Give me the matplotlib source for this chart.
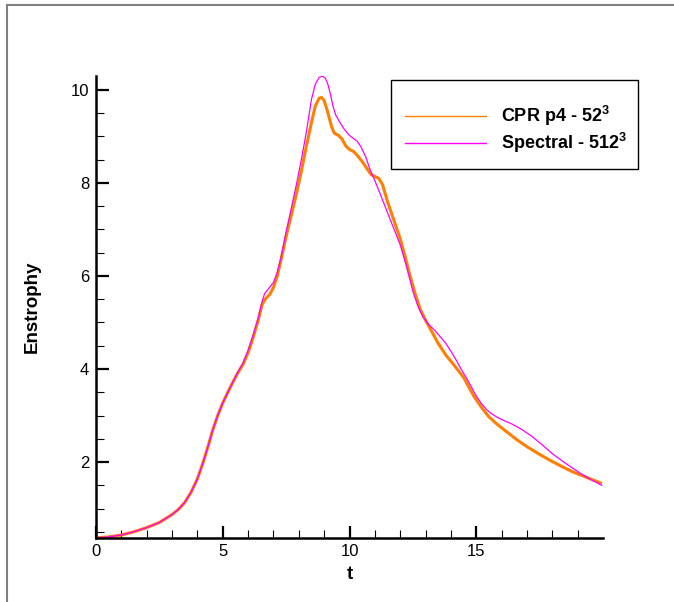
import matplotlib
matplotlib.use("Agg")
import matplotlib.pyplot as plt
from matplotlib.lines import Line2D
from matplotlib.patches import Rectangle
from matplotlib.ticker import FixedLocator

plt.rcParams['font.family'] = ['Liberation Sans', 'DejaVu Sans']
plt.rcParams['mathtext.fontset'] = 'custom'
plt.rcParams['mathtext.rm'] = 'Liberation Sans'
plt.rcParams['mathtext.bf'] = 'Liberation Sans:bold'

# CPR p4 - 52^3
t_cpr = [0, 0.5, 1.0, 1.5, 2.0, 2.5, 3.0, 3.25, 3.5, 3.75, 4.0, 4.2, 4.4,
         4.6, 4.8, 5.0, 5.2, 5.4, 5.6, 5.8, 6.0, 6.2, 6.4, 6.55, 6.7, 6.85,
         7.0, 7.15, 7.3, 7.5, 7.7, 7.9, 8.1, 8.3, 8.5, 8.65, 8.8, 8.9, 9.0,
         9.1, 9.2, 9.3, 9.4, 9.55, 9.7, 9.85, 10.0, 10.15, 10.3, 10.5, 10.7,
         10.85, 11.0, 11.15, 11.3, 11.5, 11.75, 12.0, 12.2, 12.4, 12.6, 12.8,
         13.0, 13.2, 13.5, 13.8, 14.1, 14.5, 14.9, 15.2, 15.5, 15.85, 16.2,
         16.6, 17.0, 17.45, 17.9, 18.35, 18.8, 19.35, 19.9]
e_cpr = [0.37, 0.39, 0.43, 0.50, 0.59, 0.70, 0.87, 0.98, 1.13, 1.35, 1.64,
         1.95, 2.30, 2.68, 3.00, 3.27, 3.50, 3.72, 3.92, 4.10, 4.35, 4.68,
         5.05, 5.38, 5.52, 5.60, 5.75, 6.00, 6.35, 6.85, 7.30, 7.75, 8.25,
         8.80, 9.30, 9.65, 9.82, 9.84, 9.77, 9.60, 9.40, 9.20, 9.07, 9.03,
         8.95, 8.80, 8.72, 8.68, 8.60, 8.46, 8.30, 8.18, 8.14, 8.10, 7.97,
         7.60, 7.20, 6.80, 6.40, 5.98, 5.60, 5.27, 5.05, 4.85, 4.55, 4.30,
         4.10, 3.82, 3.42, 3.18, 2.97, 2.80, 2.65, 2.48, 2.33, 2.18, 2.04,
         1.91, 1.79, 1.67, 1.55]

# Spectral - 512^3
t_spec = [0, 0.5, 1.0, 1.5, 2.0, 2.5, 3.0, 3.25, 3.5, 3.75, 4.0, 4.2, 4.4,
          4.6, 4.8, 5.0, 5.2, 5.4, 5.6, 5.8, 6.0, 6.2, 6.4, 6.55, 6.65, 6.8,
          7.0, 7.15, 7.3, 7.5, 7.7, 7.9, 8.1, 8.3, 8.5, 8.65, 8.8, 8.93, 9.05,
          9.15, 9.25, 9.35, 9.45, 9.6, 9.8, 10.0, 10.15, 10.3, 10.45, 10.65,
          10.8, 11.0, 11.2, 11.4, 11.6, 11.8, 12.0, 12.25, 12.5, 12.7, 12.9,
          13.1, 13.35, 13.6, 13.8, 14.0, 14.2, 14.4, 14.6, 14.8, 15.0, 15.2,
          15.4, 15.6, 15.8, 16.1, 16.4, 16.8, 17.2, 17.6, 18.0, 18.5, 19.1,
          19.5, 19.95]
e_spec = [0.37, 0.39, 0.43, 0.50, 0.59, 0.70, 0.87, 0.98, 1.13, 1.35, 1.64,
          1.95, 2.30, 2.68, 3.00, 3.27, 3.50, 3.72, 3.94, 4.13, 4.40, 4.73,
          5.10, 5.45, 5.62, 5.72, 5.86, 6.08, 6.40, 6.95, 7.45, 7.95, 8.50,
          9.10, 9.80, 10.12, 10.27, 10.30, 10.25, 10.12, 9.90, 9.65, 9.47,
          9.32, 9.15, 9.02, 8.96, 8.90, 8.78, 8.55, 8.30, 8.05, 7.78, 7.50,
          7.22, 6.95, 6.67, 6.20, 5.67, 5.35, 5.12, 4.97, 4.84, 4.68, 4.55,
          4.38, 4.20, 4.00, 3.82, 3.62, 3.42, 3.26, 3.13, 3.04, 2.97, 2.89,
          2.82, 2.70, 2.55, 2.37, 2.18, 1.98, 1.76, 1.63, 1.50]

labels = [r'CPR p4 - 52$^{\mathbf{3}}$', r'Spectral - 512$^{\mathbf{3}}$']
colors = ['#ff8000', '#ff00ff']

fig = plt.figure(figsize=(6.74, 6.02), dpi=100)
ax = fig.add_axes([96 / 674, 64 / 602, 507 / 674, 462 / 602])

ax.plot(t_cpr, e_cpr, color=colors[0], lw=2.2)
ax.plot(t_spec, e_spec, color=colors[1], lw=0.9)

ax.set_xlim(0, 20)
ax.set_ylim(0.366, 10.3)

for s in ['top', 'right']:
    ax.spines[s].set_visible(False)
for s in ['left', 'bottom']:
    ax.spines[s].set_linewidth(1.8)

ax.xaxis.set_major_locator(FixedLocator([0, 5, 10, 15]))
ax.xaxis.set_minor_locator(FixedLocator([i for i in range(1, 20) if i % 5]))
ax.yaxis.set_major_locator(FixedLocator([2, 4, 6, 8, 10]))
ax.yaxis.set_minor_locator(FixedLocator([0.5 + 0.5 * i for i in range(20) if (0.5 + 0.5 * i) % 2]))
ax.tick_params(which='major', direction='in', length=9, width=1.6, labelsize=12, pad=5)
ax.tick_params(which='minor', direction='in', length=6, width=0.8)
ax.tick_params(axis='x', pad=4)

ax.set_xlabel('t', fontsize=13.5, fontweight='bold')
ax.xaxis.set_label_coords(0.5, -0.06)
ax.set_ylabel('Enstrophy', fontsize=13.5, fontweight='bold')
ax.yaxis.set_label_coords(-0.108, 0.5)

# legend box
fig.add_artist(Rectangle((391 / 674, 1 - 169 / 602), 247 / 674, 89 / 602,
                         transform=fig.transFigure, fill=False,
                         edgecolor='black', lw=1.0))
handles = [Line2D([], [], color=c, lw=1.0) for c in colors]
fig.legend(handles, labels, loc='upper left', bbox_to_anchor=(405 / 674, 1 - 104 / 602),
           frameon=False, handlelength=4.5, handletextpad=0.8,
           labelspacing=0.15, borderpad=0, borderaxespad=0,
           prop={'weight': 'bold', 'size': 13})

# figure frame (left and top)
fig.add_artist(Line2D([7 / 674, 7 / 674], [0, 1 - 5 / 602], color='#808080', lw=1.5,
                      transform=fig.transFigure))
fig.add_artist(Line2D([7 / 674, 1], [1 - 5 / 602, 1 - 5 / 602], color='#808080', lw=1.5,
                      transform=fig.transFigure))

fig.savefig('out.png', dpi=100)
